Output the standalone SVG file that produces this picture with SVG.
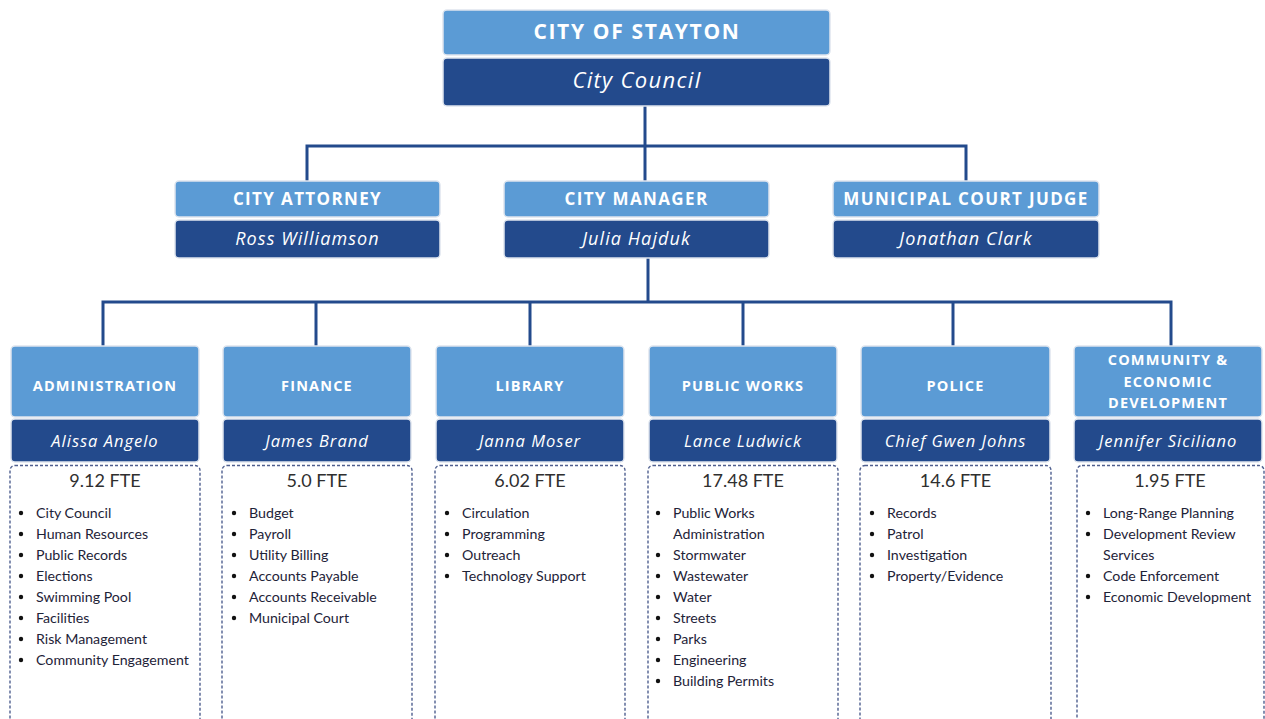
<svg xmlns="http://www.w3.org/2000/svg" width="1265" height="719" viewBox="0 0 1265 719">
  <style>
    .hd { fill: #5b9bd5; stroke: #dfe5ee; stroke-width: 1.5; }
    .nm { fill: #234a8c; stroke: #dfe5ee; stroke-width: 1.5; }
    .ht { font-family: "Open Sans", "DejaVu Sans", sans-serif; font-weight: 700; fill: #ffffff; text-anchor: middle; letter-spacing: 0.08em; }
    .nt { font-family: "Open Sans", "DejaVu Sans", sans-serif; font-style: italic; fill: #ffffff; text-anchor: middle; letter-spacing: 0.06em; }
    .box { fill: #ffffff; stroke: #4f5f8f; stroke-width: 1.4; stroke-dasharray: 3 2; }
    .fte { font-family: Lato, "Liberation Sans", sans-serif; font-size: 18px; fill: #2f2f2f; text-anchor: middle; }
    .li { font-family: Lato, "Liberation Sans", sans-serif; font-size: 14.2px; fill: #1e2338; }
    .bl { fill: #111111; }
    .wire { fill: none; stroke: #234a8c; stroke-width: 3; }
  </style>

  <!-- connectors -->
  <g id="connectors" class="wire">
    <path d="M645 106 V181"/>
    <path d="M307 181 V146 H966 V181"/>
    <path d="M648 258 V302"/>
    <path d="M103 346 V302 H1171 V346"/>
    <path d="M316 302 V346"/>
    <path d="M530 302 V346"/>
    <path d="M743 302 V346"/>
    <path d="M953 302 V346"/>
  </g>

  <!-- top -->
  <g id="city">
    <rect class="hd" x="443" y="10" width="387" height="45" rx="4"/>
    <text class="ht" x="637" y="39" font-size="21">CITY OF STAYTON</text>
    <rect class="nm" x="443" y="58" width="387" height="48" rx="4"/>
    <text class="nt" x="637" y="88" font-size="22">City Council</text>
  </g>

  <!-- second row -->
  <g id="attorney">
    <rect class="hd" x="175" y="181" width="265" height="36" rx="4"/>
    <text class="ht" x="307.5" y="205" font-size="17">CITY ATTORNEY</text>
    <rect class="nm" x="175" y="220" width="265" height="38" rx="4"/>
    <text class="nt" x="307.5" y="245" font-size="18">Ross Williamson</text>
  </g>
  <g id="manager">
    <rect class="hd" x="504" y="181" width="265" height="36" rx="4"/>
    <text class="ht" x="636.5" y="205" font-size="17">CITY MANAGER</text>
    <rect class="nm" x="504" y="220" width="265" height="38" rx="4"/>
    <text class="nt" x="636.5" y="245" font-size="18">Julia Hajduk</text>
  </g>
  <g id="judge">
    <rect class="hd" x="833" y="181" width="266" height="36" rx="4"/>
    <text class="ht" x="966" y="205" font-size="17">MUNICIPAL COURT JUDGE</text>
    <rect class="nm" x="833" y="220" width="266" height="38" rx="4"/>
    <text class="nt" x="966" y="245" font-size="18">Jonathan Clark</text>
  </g>

  <!-- departments -->
  <g id="administration">
    <rect class="hd" x="11" y="346" width="188" height="71" rx="4"/>
    <text class="ht" x="105" y="391" font-size="14.5">ADMINISTRATION</text>
    <rect class="nm" x="11" y="419" width="188" height="43" rx="4"/>
    <text class="nt" x="105" y="447" font-size="16.5">Alissa Angelo</text>
    <rect class="box" x="10" y="465.5" width="190" height="270" rx="5"/>
    <text class="fte" x="105" y="487">9.12 FTE</text>
    <g class="bl"><circle cx="21" cy="513" r="2.2"/><circle cx="21" cy="534" r="2.2"/><circle cx="21" cy="555" r="2.2"/><circle cx="21" cy="576" r="2.2"/><circle cx="21" cy="597" r="2.2"/><circle cx="21" cy="618" r="2.2"/><circle cx="21" cy="639" r="2.2"/><circle cx="21" cy="660" r="2.2"/></g>
    <text class="li" x="36" y="518">City Council</text>
    <text class="li" x="36" y="539">Human Resources</text>
    <text class="li" x="36" y="560">Public Records</text>
    <text class="li" x="36" y="581">Elections</text>
    <text class="li" x="36" y="602">Swimming Pool</text>
    <text class="li" x="36" y="623">Facilities</text>
    <text class="li" x="36" y="644">Risk Management</text>
    <text class="li" x="36" y="665">Community Engagement</text>
  </g>

  <g id="finance">
    <rect class="hd" x="223" y="346" width="188" height="71" rx="4"/>
    <text class="ht" x="317" y="391" font-size="14.5">FINANCE</text>
    <rect class="nm" x="223" y="419" width="188" height="43" rx="4"/>
    <text class="nt" x="317" y="447" font-size="16.5">James Brand</text>
    <rect class="box" x="222" y="465.5" width="190" height="270" rx="5"/>
    <text class="fte" x="317" y="487">5.0 FTE</text>
    <g class="bl"><circle cx="234" cy="513" r="2.2"/><circle cx="234" cy="534" r="2.2"/><circle cx="234" cy="555" r="2.2"/><circle cx="234" cy="576" r="2.2"/><circle cx="234" cy="597" r="2.2"/><circle cx="234" cy="618" r="2.2"/></g>
    <text class="li" x="249" y="518">Budget</text>
    <text class="li" x="249" y="539">Payroll</text>
    <text class="li" x="249" y="560">Utility Billing</text>
    <text class="li" x="249" y="581">Accounts Payable</text>
    <text class="li" x="249" y="602">Accounts Receivable</text>
    <text class="li" x="249" y="623">Municipal Court</text>
  </g>

  <g id="library">
    <rect class="hd" x="436" y="346" width="188" height="71" rx="4"/>
    <text class="ht" x="530" y="391" font-size="14.5">LIBRARY</text>
    <rect class="nm" x="436" y="419" width="188" height="43" rx="4"/>
    <text class="nt" x="530" y="447" font-size="16.5">Janna Moser</text>
    <rect class="box" x="435" y="465.5" width="190" height="270" rx="5"/>
    <text class="fte" x="530" y="487">6.02 FTE</text>
    <g class="bl"><circle cx="447" cy="513" r="2.2"/><circle cx="447" cy="534" r="2.2"/><circle cx="447" cy="555" r="2.2"/><circle cx="447" cy="576" r="2.2"/></g>
    <text class="li" x="462" y="518">Circulation</text>
    <text class="li" x="462" y="539">Programming</text>
    <text class="li" x="462" y="560">Outreach</text>
    <text class="li" x="462" y="581">Technology Support</text>
  </g>

  <g id="public-works">
    <rect class="hd" x="649" y="346" width="188" height="71" rx="4"/>
    <text class="ht" x="743" y="391" font-size="14.5">PUBLIC WORKS</text>
    <rect class="nm" x="649" y="419" width="188" height="43" rx="4"/>
    <text class="nt" x="743" y="447" font-size="16.5">Lance Ludwick</text>
    <rect class="box" x="648" y="465.5" width="190" height="270" rx="5"/>
    <text class="fte" x="743" y="487">17.48 FTE</text>
    <g class="bl"><circle cx="658" cy="513" r="2.2"/><circle cx="658" cy="555" r="2.2"/><circle cx="658" cy="576" r="2.2"/><circle cx="658" cy="597" r="2.2"/><circle cx="658" cy="618" r="2.2"/><circle cx="658" cy="639" r="2.2"/><circle cx="658" cy="660" r="2.2"/><circle cx="658" cy="681" r="2.2"/></g>
    <text class="li" x="673" y="518">Public Works</text>
    <text class="li" x="673" y="539">Administration</text>
    <text class="li" x="673" y="560">Stormwater</text>
    <text class="li" x="673" y="581">Wastewater</text>
    <text class="li" x="673" y="602">Water</text>
    <text class="li" x="673" y="623">Streets</text>
    <text class="li" x="673" y="644">Parks</text>
    <text class="li" x="673" y="665">Engineering</text>
    <text class="li" x="673" y="686">Building Permits</text>
  </g>

  <g id="police">
    <rect class="hd" x="861" y="346" width="189" height="71" rx="4"/>
    <text class="ht" x="955.5" y="391" font-size="14.5">POLICE</text>
    <rect class="nm" x="861" y="419" width="189" height="43" rx="4"/>
    <text class="nt" x="955.5" y="447" font-size="16.5">Chief Gwen Johns</text>
    <rect class="box" x="860" y="465.5" width="191" height="270" rx="5"/>
    <text class="fte" x="955.5" y="487">14.6 FTE</text>
    <g class="bl"><circle cx="872" cy="513" r="2.2"/><circle cx="872" cy="534" r="2.2"/><circle cx="872" cy="555" r="2.2"/><circle cx="872" cy="576" r="2.2"/></g>
    <text class="li" x="887" y="518">Records</text>
    <text class="li" x="887" y="539">Patrol</text>
    <text class="li" x="887" y="560">Investigation</text>
    <text class="li" x="887" y="581">Property/Evidence</text>
  </g>

  <g id="community-development">
    <rect class="hd" x="1074" y="346" width="188" height="71" rx="4"/>
    <text class="ht" x="1168" y="365" font-size="14.5">COMMUNITY &amp;</text>
    <text class="ht" x="1168" y="387" font-size="14.5">ECONOMIC</text>
    <text class="ht" x="1168" y="408" font-size="14.5">DEVELOPMENT</text>
    <rect class="nm" x="1074" y="419" width="188" height="43" rx="4"/>
    <text class="nt" x="1168" y="447" font-size="16.5">Jennifer Siciliano</text>
    <rect class="box" x="1077" y="465.5" width="187" height="270" rx="5"/>
    <text class="fte" x="1170" y="487">1.95  FTE</text>
    <g class="bl"><circle cx="1088" cy="513" r="2.2"/><circle cx="1088" cy="534" r="2.2"/><circle cx="1088" cy="576" r="2.2"/><circle cx="1088" cy="597" r="2.2"/></g>
    <text class="li" x="1103" y="518">Long-Range Planning</text>
    <text class="li" x="1103" y="539">Development Review</text>
    <text class="li" x="1103" y="560">Services</text>
    <text class="li" x="1103" y="581">Code Enforcement</text>
    <text class="li" x="1103" y="602">Economic Development</text>
  </g>
</svg>
